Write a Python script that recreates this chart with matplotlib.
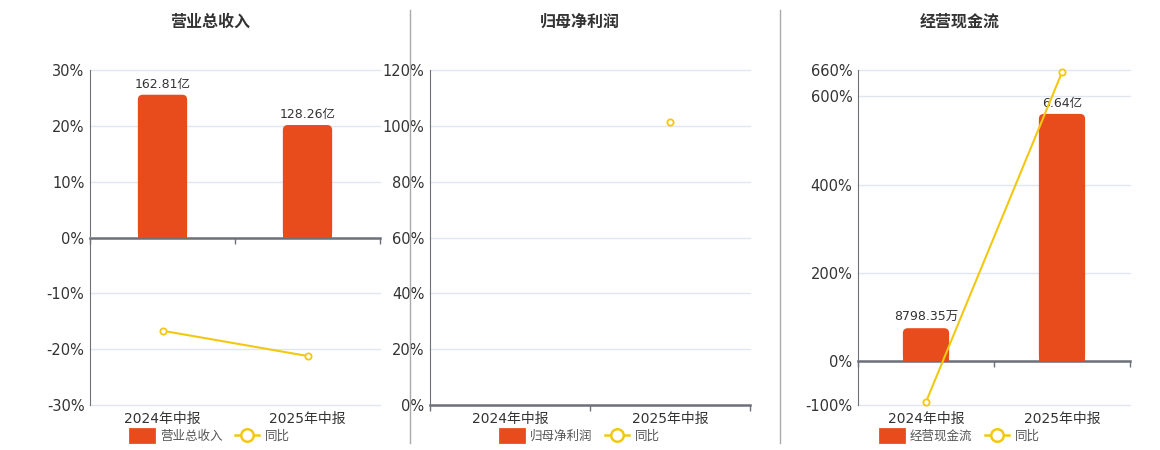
import numpy as np
import matplotlib
matplotlib.use("Agg")
from matplotlib import pyplot as plt
from matplotlib.patches import Patch, FancyBboxPatch
from matplotlib.lines import Line2D

plt.rcParams['font.family'] = ['DejaVu Sans', 'Noto Sans CJK SC']

# data
periods = ['2024年中报', '2025年中报']

revenue = [162.81, 128.26]          # 亿
revenue_labels = ['162.81亿', '128.26亿']
revenue_yoy = [-16.7, -21.22]

profit = [np.nan, np.nan]
profit_labels = ['', '']
profit_yoy = [np.nan, 101.4]

cashflow = [0.879835, 6.64]         # 亿
cashflow_labels = ['8798.35万', '6.64亿']
cashflow_yoy = [-93.0, 654.7]

BAR_COLOR = '#e84c1d'
LINE_COLOR = '#f2c811'
AXIS_COLOR = '#6e7079'
GRID_COLOR = '#e0e6f1'
TEXT_COLOR = '#333333'

W, HPX = 1160, 450
fig = plt.figure(figsize=(W / 100, HPX / 100), dpi=100)


def panel(rect, cx, title, bar_name, bars, labels, yoy, pct_ticks, bar_top):
    ax = fig.add_axes(rect)
    lo, hi = pct_ticks[0], pct_ticks[-1]
    ax.set_ylim(lo, hi)
    ax.set_xlim(-0.5, 1.5)
    ax.set_yticks(pct_ticks)
    ax.set_yticklabels(['{}%'.format(t) for t in pct_ticks])
    ax.tick_params(axis='y', length=0, pad=4, labelsize=10.5, labelcolor=TEXT_COLOR)
    ax.set_xticks(range(len(periods)))
    ax.set_xticklabels(periods)
    ax.tick_params(axis='x', length=0, pad=5, labelsize=10, labelcolor=TEXT_COLOR)
    ax.grid(axis='y', color=GRID_COLOR, lw=1)
    for gl in ax.get_ygridlines():
        gl.set_clip_on(False)
    ax.set_axisbelow(True)
    for s in ['top', 'right', 'bottom']:
        ax.spines[s].set_visible(False)
    ax.spines['left'].set_color(AXIS_COLOR)

    # zero axis with category boundary ticks
    zero_frac = (0 - lo) / (hi - lo)
    zx = ax.secondary_xaxis(zero_frac)
    zx.set_alignment('bottom')
    zx.set_zorder(3)
    zx.set_xticks([-0.5, 0.5, 1.5])
    zx.set_xticklabels(['', '', ''])
    zx.tick_params(length=4, width=1, color=AXIS_COLOR, direction='out')
    for s in zx.spines.values():
        s.set_visible(False)
    zx.spines['bottom'].set_visible(True)
    zx.spines['bottom'].set_color(AXIS_COLOR)
    zx.spines['bottom'].set_linewidth(1.8)

    # bars on twin axis with aligned zero
    tb = ax.twinx()
    tb.set_ylim(bar_top * lo / hi, bar_top)
    tb.set_xlim(-0.5, 1.5)
    tb.axis('off')
    b = tb.bar(range(len(periods)), bars, width=0.34, color=BAR_COLOR, alpha=0)
    tb.bar_label(b, labels=labels, padding=3, fontsize=9, color=TEXT_COLOR)

    # rounded tops
    ax_w = rect[2] * W
    ax_h = rect[3] * HPX
    xu = 2.0 / ax_w
    yu = (bar_top - bar_top * lo / hi) / ax_h
    r = 5 * xu
    for p in b.patches:
        h = p.get_height()
        if not np.isfinite(h):
            continue
        x0, y0, w = p.get_x(), p.get_y(), p.get_width()
        tb.add_patch(FancyBboxPatch((x0, y0), w, h,
                                    boxstyle='round,pad=0,rounding_size={}'.format(r),
                                    mutation_aspect=yu / xu, fc=BAR_COLOR, ec='none'))
        tb.bar(p.get_x() + w / 2, h / 2, width=w, bottom=y0, color=BAR_COLOR)

    # yoy line on top
    tl = ax.twinx()
    tl.set_ylim(lo, hi)
    tl.set_xlim(-0.5, 1.5)
    tl.axis('off')
    tl.plot(range(len(periods)), yoy, color=LINE_COLOR, lw=1.5, marker='o',
            ms=4.5, mfc='white', mec=LINE_COLOR, mew=1.3, clip_on=False)

    fig.text(cx / W, 1 - 22 / HPX, title, ha='center', va='center', fontsize=11.5,
             fontweight='bold', color=TEXT_COLOR, family=['Noto Sans CJK SC'])

    handles = [Patch(facecolor=BAR_COLOR, edgecolor=BAR_COLOR, lw=2, joinstyle='round'),
               Line2D([], [], color=LINE_COLOR, lw=1.8, marker='o', ms=9,
                      mfc='white', mec=LINE_COLOR, mew=1.8)]
    fig.legend(handles, [bar_name, '同比'], loc='center', bbox_to_anchor=(cx / W, 14 / HPX),
               ncol=2, frameon=False, handlelength=1.9, handleheight=1.15,
               columnspacing=1.0, handletextpad=0.5, labelcolor='#555555',
               prop={'family': ['Noto Sans CJK SC'], 'size': 9})
    return ax


H = 335 / HPX
B = 45 / HPX
panel([90 / W, B, 290 / W, H], 210, '营业总收入', '营业总收入', revenue, revenue_labels,
      revenue_yoy, [-30, -20, -10, 0, 10, 20, 30], 191)
panel([430 / W, B, 320 / W, H], 580, '归母净利润', '归母净利润', profit, profit_labels,
      profit_yoy, [0, 20, 40, 60, 80, 100, 120], 1)
panel([858 / W, B, 272 / W, H], 960, '经营现金流', '经营现金流', cashflow, cashflow_labels,
      cashflow_yoy, [-100, 0, 200, 400, 600, 660], 7.82)

for x in [410, 780]:
    fig.add_artist(Line2D([x / W, x / W], [1 - 443 / HPX, 1 - 10 / HPX],
                          color='#aaaaaa', lw=1))

fig.savefig('out.png', dpi=100, facecolor='white')
